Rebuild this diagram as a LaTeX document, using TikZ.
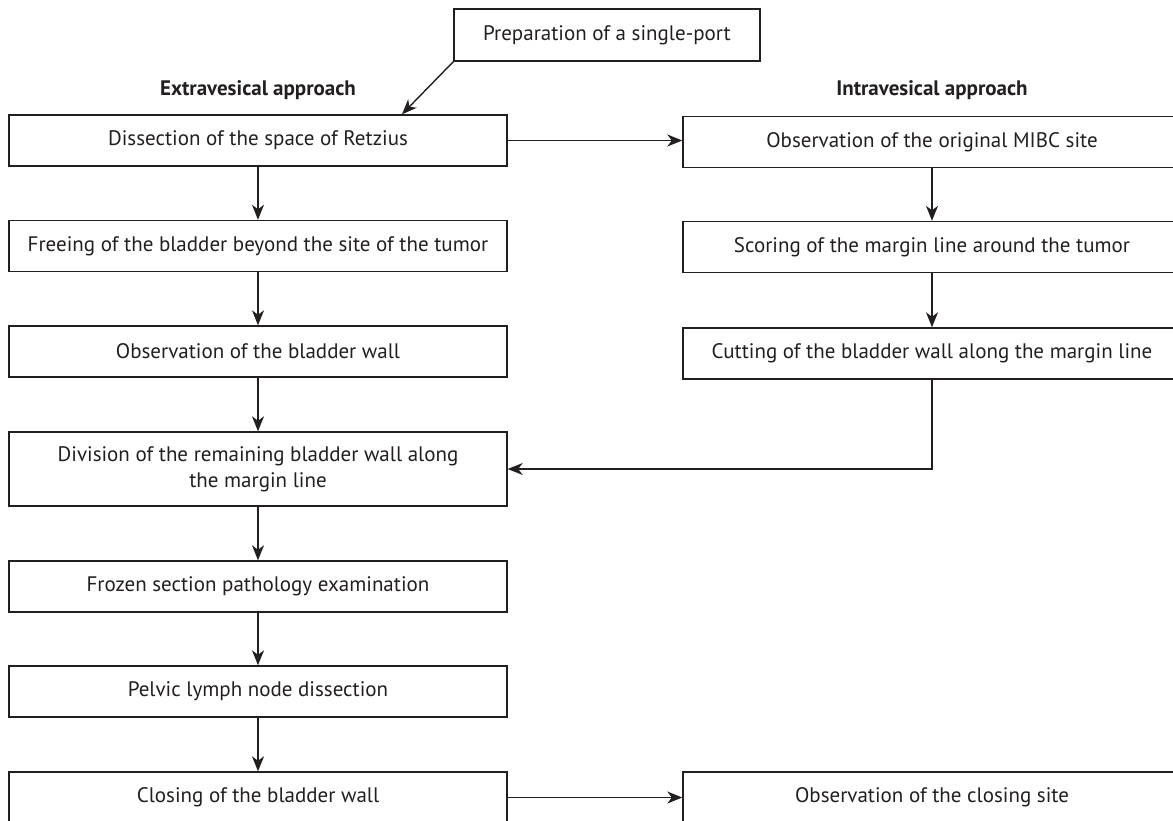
\documentclass[tikz,border=0pt]{standalone}
\usepackage{fontspec}
\setmainfont{PT Sans}
\usetikzlibrary{arrows.meta}
\definecolor{ink}{HTML}{231F20}
\begin{document}
\begin{tikzpicture}[x=1pt,y=-1pt,
  flowbox/.style={draw=ink, line width=1.4pt, text=ink, inner sep=0pt, align=center,
    minimum width=498pt, minimum height=51pt, font=\fontsize{21}{26}\selectfont},
  headlabel/.style={text=ink, font=\fontsize{21}{24}\selectfont\bfseries},
  conn/.style={draw=ink, line width=1.4pt, -{Stealth[length=15pt,width=12pt,inset=4.5pt]}}
]
\clip (0,0) rectangle (1173,821);
\fill[white] (0,0) rectangle (1173,821);
% top
\node[flowbox, minimum width=306pt, minimum height=52pt] (top) at (607,35) {Preparation of a single-port};
\node[headlabel] (ext) at (258,90) {Extravesical approach};
\node[headlabel] (int) at (932,90) {Intravesical approach};
% left column
\node[flowbox] (L1) at (258,140.5) {Dissection of the space of Retzius};
\node[flowbox] (L2) at (258,246) {Freeing of the bladder beyond the site of the tumor};
\node[flowbox] (L3) at (258,351.5) {Observation of the bladder wall};
\node[flowbox, minimum height=74pt] (L4) at (258,469) {Division of the remaining bladder wall along\\the margin line};
\node[flowbox] (L5) at (258,586.5) {Frozen section pathology examination};
\node[flowbox] (L6) at (258,691.5) {Pelvic lymph node dissection};
\node[flowbox] (L7) at (258,797.5) {Closing of the bladder wall};
% right column
\node[flowbox] (R1) at (932,142) {Observation of the original MIBC site};
\node[flowbox] (R2) at (932,247) {Scoring of the margin line around the tumor};
\node[flowbox] (R3) at (932,353.5) {Cutting of the bladder wall along the margin line};
\node[flowbox] (R4) at (932,797.5) {Observation of the closing site};
% connectors
\draw[conn] (top.south west) -- (L1.north -| 402,0);
\draw[conn] (L1.east) -- (L1.east -| R1.west);
\draw[conn] (L1) -- (L2);
\draw[conn] (L2) -- (L3);
\draw[conn] (L3) -- (L4);
\draw[conn] (L4) -- (L5);
\draw[conn] (L5) -- (L6);
\draw[conn] (L6) -- (L7);
\draw[conn] (R1) -- (R2);
\draw[conn] (R2) -- (R3);
\draw[conn] (R3.south) |- (L4.east);
\draw[conn] (L7.east) -- (R4.west);
\end{tikzpicture}
\end{document}
